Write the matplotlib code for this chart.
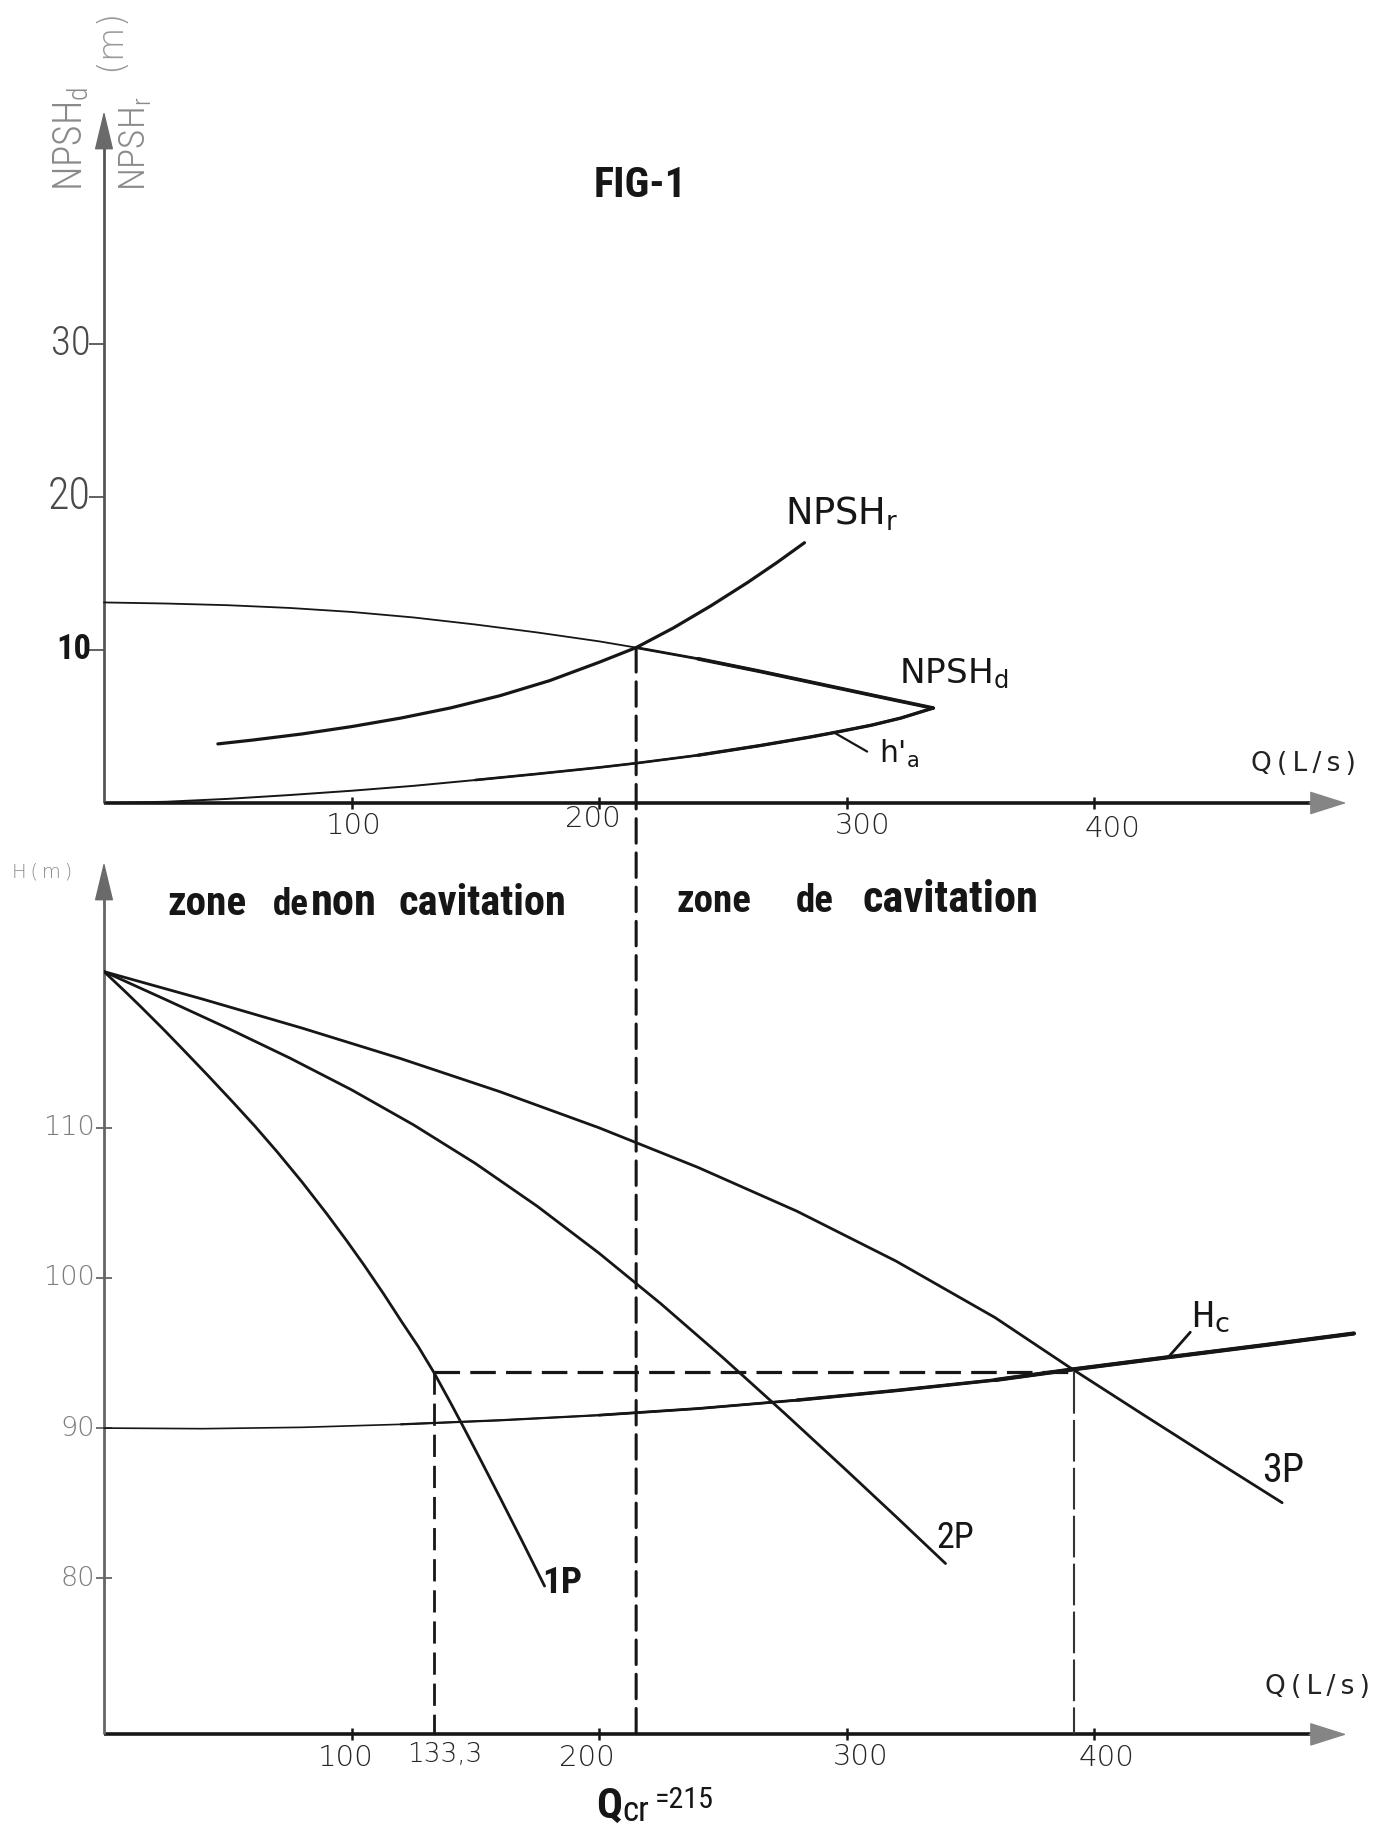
"""
FIG-1 : NPSH and H(Q) curves of the pumping station (1, 2, 3 pumps in parallel).
Values were read off the scanned drawing.
"""
import os

import matplotlib
matplotlib.use("Agg")  # no display needed
import matplotlib.pyplot as plt
from matplotlib import font_manager as fm
from matplotlib.font_manager import FontProperties
from matplotlib.patches import ConnectionPatch

plt.rcParams["font.family"] = ["DejaVu Sans"]
plt.rcParams["mathtext.default"] = "regular"

# --- upper diagram : NPSH (m) vs Q (L/s) ---
NPSHD_Q = [0, 25, 50, 75, 100, 125, 150, 175, 200, 215, 240, 265, 290, 315, 335]
NPSHD_H = [13.1, 13.03, 12.92, 12.74, 12.48, 12.12, 11.66, 11.14, 10.56, 10.15, 9.42, 8.6, 7.74, 6.88, 6.2]
NPSHR_Q = [46, 60, 80, 100, 120, 140, 160, 180, 200, 215, 230, 245, 260, 272, 283]
NPSHR_H = [3.86, 4.11, 4.51, 4.99, 5.55, 6.21, 7.01, 7.99, 9.19, 10.15, 11.43, 12.86, 14.4, 15.72, 17.0]
HA_Q = [0, 25, 50, 75, 100, 125, 150, 175, 200, 215, 240, 265, 285, 295, 310, 322, 335]
HA_H = [0.0, 0.08, 0.27, 0.52, 0.8, 1.12, 1.5, 1.9, 2.32, 2.6, 3.12, 3.75, 4.3, 4.6, 5.08, 5.55, 6.2]
NPSH_TICKS = [10, 20, 30]
NPSH_TICK_LABELS = ["10", "20", "30"]

# --- lower diagram : H (m) vs Q (L/s) ---
P1_Q = [0, 8, 15, 24, 32, 42, 52, 61, 70, 80, 90, 98, 105, 113, 120, 127, 133.3,
        140, 145, 152, 160, 169, 178]
P1_H = [120.4, 119.16, 118.04, 116.56, 115.2, 113.48, 111.72, 110.1, 108.39, 106.39, 104.27,
        102.49, 100.87, 98.93, 97.15, 95.42, 93.7, 91.69, 90.14, 87.93, 85.37, 82.45, 79.48]
P2_Q = [0, 25, 50, 75, 100, 125, 150, 175, 200, 225, 250, 275, 300, 320, 340]
P2_H = [120.4, 118.53, 116.63, 114.65, 112.53, 110.2, 107.63, 104.78, 101.65, 98.28, 94.7,
        90.98, 87.18, 84.1, 80.98]
P3_Q = [0, 40, 80, 120, 160, 200, 240, 280, 320, 360, 390, 420, 450, 476]
P3_H = [120.4, 118.56, 116.64, 114.6, 112.4, 110.0, 107.36, 104.44, 101.12, 97.36, 94.06,
        90.88, 87.73, 85.03]
HC_Q = [0, 40, 80, 120, 160, 200, 240, 280, 320, 360, 391, 430, 470, 505]
HC_H = [90.0, 89.96, 90.05, 90.25, 90.52, 90.86, 91.3, 91.86, 92.5, 93.2, 93.9, 94.72, 95.55, 96.3]
H_TICKS = [80, 90, 100, 110]
H_TICK_LABELS = ["80", "90", "100", "110"]

Q_TICKS = [100, 200, 300, 400]
Q_TICK_LABELS = ["100", "200", "300", "400"]
Q_1P = 133.3      # operating point, one pump
Q_3P = 392        # operating point, three pumps
H_OP = 93.75
Q_CR = 215        # critical flow (NPSHd = NPSHr)
NPSH_CR = 10.15

# --- page geometry (pixels of the scan) ---
W, H = 1399, 1826
INK = "#161616"


def fx(px):
    return px / W


def fy(py):
    return 1 - py / H


_files = {}
for f in fm.fontManager.ttflist:
    key = os.path.splitext(os.path.basename(f.fname))[0].lower()
    key = key.replace("-", "").replace("_", "").replace(" ", "")
    _files.setdefault(key, f.fname)


def font(names, size, weight="normal"):
    for n in names:
        if n in _files:
            return FontProperties(fname=_files[n], size=size)
    return FontProperties(family="DejaVu Sans", weight=weight, size=size)


BOLD_C = ["notosansextracondensedbold", "notosanscondensedbold",
          "liberationsansnarrowbold", "robotocondensedbold"]
REG_C = ["notosansextracondensed", "notosansextracondensedregular", "notosanscondensed",
         "liberationsansnarrowregular", "liberationsansnarrow", "robotocondensedregular"]
LIGHT_C = ["notosansextracondensedlight", "notosanscondensedlight", "robotocondensedlight"] + REG_C
THIN = ["dejavusansextralight", "latolight", "latoregular"]

fig = plt.figure(figsize=(W / 100, H / 100), dpi=100)
fig.patch.set_facecolor("white")
rend = fig.canvas.get_renderer()


def fit(t, px, along="w"):
    bb = t.get_window_extent(rend)
    cur = bb.width if along == "w" else bb.height
    if cur > 0:
        t.set_fontsize(t.get_fontsize() * px / cur)
    return t


def part(qs, hs, qmin):
    pts = [(q, h) for q, h in zip(qs, hs) if q >= qmin]
    return [p[0] for p in pts], [p[1] for p in pts]


def pen(ax, qs, hs, steps, **kw):
    # the ink gets heavier along the stroke: overlay from each start flow
    for qmin, lw in steps:
        ax.plot(*part(qs, hs, qmin), color=INK, lw=lw, solid_capstyle="round",
                solid_joinstyle="round", **kw)


# --- axes ---
QX0, QX1 = 104, 1346.5
ax_top = fig.add_axes([fx(QX0), fy(803), (QX1 - QX0) / W, (803 - 111) / H])
ax_bot = fig.add_axes([fx(QX0), fy(1734.4), (QX1 - QX0) / W, (1734.4 - 862) / H])
for ax in (ax_top, ax_bot):
    ax.set_xlim(0, 502)
    ax.patch.set_visible(False)
    for sp in ax.spines.values():
        sp.set_visible(False)
    ax.set_xticks(Q_TICKS)
    ax.tick_params(axis="x", direction="inout", length=9, width=1.8, color=INK, labelbottom=False)
ax_top.set_ylim(0, 45.2)
ax_bot.set_ylim(69.6, 127.7)
ax_top.set_yticks(NPSH_TICKS)
ax_top.tick_params(axis="y", direction="out", length=11, width=1.3, color="#555555", labelleft=False)
ax_bot.set_yticks(H_TICKS)
ax_bot.tick_params(axis="y", direction="inout", length=11, width=1.3, color="#666666", labelleft=False)


def draw_axes(ax, ycol):
    kw = dict(transform=ax.transAxes, clip_on=False, solid_capstyle="butt")
    ax.plot([0, 0.975], [0, 0], color=INK, lw=2.6, **kw)
    ax.plot([0, 0], [0, 0.96], color=ycol, lw=2.0, **kw)
    ax.annotate("", xy=(1, 0), xytext=(0.97, 0), xycoords="axes fraction",
                arrowprops=dict(arrowstyle="-|>,head_length=1.2,head_width=0.38", mutation_scale=20,
                                color="#858585", lw=1, shrinkA=0, shrinkB=0))
    ax.annotate("", xy=(0, 1), xytext=(0, 0.95), xycoords="axes fraction",
                arrowprops=dict(arrowstyle="-|>,head_length=1.25,head_width=0.3", mutation_scale=20,
                                color="#6a6a6a", lw=1, shrinkA=0, shrinkB=0))


draw_axes(ax_top, "#555555")
draw_axes(ax_bot, "#666666")

# --- upper curves ---
pen(ax_top, NPSHD_Q, NPSHD_H, [(0, 1.3), (Q_CR, 2.0), (240, 2.7)], clip_on=False)
pen(ax_top, NPSHR_Q, NPSHR_H, [(0, 2.3)])
pen(ax_top, HA_Q, HA_H, [(0, 1.4), (150, 1.9), (240, 2.4)])

i_ha = HA_Q.index(295)
ax_top.annotate("", xy=(HA_Q[i_ha], HA_H[i_ha]), xytext=(33, -19), textcoords="offset pixels",
                arrowprops=dict(arrowstyle="-", color=INK, lw=1.6, shrinkA=0, shrinkB=0))

t = ax_top.text(275, 18.2, "NPSH$_r$", fontsize=22, color=INK, va="baseline")
fit(t, 114)
t = ax_top.text(321, 7.85, "NPSH$_d$", fontsize=22, color=INK, va="baseline")
fit(t, 109)
t = ax_top.text(313, 2.6, "h$'_a$", fontsize=22, color=INK, va="baseline")
fit(t, 40)

# --- lower curves ---
pen(ax_bot, HC_Q, HC_H, [(0, 1.2), (120, 1.6), (200, 2.0), (280, 2.5), (360, 3.0)], clip_on=False)
for qs, hs in ((P1_Q, P1_H), (P2_Q, P2_H), (P3_Q, P3_H)):
    pen(ax_bot, qs, hs, [(0, 2.0)])

i_hc = HC_Q.index(430)
ax_bot.annotate("", xy=(HC_Q[i_hc], HC_H[i_hc]), xytext=(22, 25), textcoords="offset pixels",
                arrowprops=dict(arrowstyle="-", color=INK, lw=2.0, shrinkA=0, shrinkB=0))

# dashed construction lines
dash = (0, (8, 3.2))
ax_bot.plot([Q_1P, Q_3P], [H_OP, H_OP], color=INK, lw=2.3, ls=dash)
ax_bot.plot([Q_1P, Q_1P], [H_OP, ax_bot.get_ylim()[0]], color=INK, lw=2.0, ls=dash)
ax_bot.plot([Q_3P, Q_3P], [H_OP, ax_bot.get_ylim()[0]], color="#333333", lw=1.5, ls=(0, (20, 3)))
fig.add_artist(ConnectionPatch(xyA=(Q_CR, NPSH_CR), coordsA=ax_top.transData,
                               xyB=(Q_CR, ax_bot.get_ylim()[0]), coordsB=ax_bot.transData,
                               color=INK, lw=2.2, ls=dash))

# curve names
for txt, q, h, px, names in (("1P", 177, 79.0, 40, BOLD_C), ("2P", 336.4, 82.0, 38, REG_C),
                             ("3P", 468, 86.4, 42, REG_C)):
    t = ax_bot.text(q, h, txt, fontproperties=font(names, 30, "bold"), color=INK, va="baseline")
    fit(t, px)
t = ax_bot.text(439.2, 96.7, "H", fontproperties=font(REG_C, 30), color=INK, va="baseline")
fit(t, 23)
t = ax_bot.text(448.6, 96.4, "c", fontsize=16, color=INK, va="baseline")
fit(t, 15)

# --- tick labels ---
for val, lab in zip(NPSH_TICKS, NPSH_TICK_LABELS):
    bold = val == 10
    t = ax_top.annotate(lab, xy=(0, val), xycoords=("axes fraction", "data"), xytext=(-13, 0),
                        textcoords="offset pixels", ha="right", va="center",
                        color=INK if bold else "#4a4a4a",
                        fontproperties=font(BOLD_C if bold else LIGHT_C, 30, "bold" if bold else "normal"))
    fit(t, {10: 35, 20: 43, 30: 40}[val])

for val, lab in zip(H_TICKS, H_TICK_LABELS):
    ax_bot.annotate(lab, xy=(0, val), xycoords=("axes fraction", "data"), xytext=(-9, 0),
                    textcoords="offset pixels", ha="right", va="center", color="#7d7d7d",
                    fontproperties=font(THIN, 19.5))

for ax, dxs, dys in ((ax_top, [2, -6, 16, 18], [-9, -2, -9, -12]),
                     (ax_bot, [-6, -12, 14, 12], [-10, -10, -9, -10])):
    for q, lab, dx, dy in zip(Q_TICKS, Q_TICK_LABELS, dxs, dys):
        ax.annotate(lab, xy=(q, 0), xycoords=("data", "axes fraction"), xytext=(dx, dy),
                    textcoords="offset pixels", ha="center", va="top", color="#262626",
                    fontproperties=font(THIN, 21))
ax_bot.annotate("133,3", xy=(Q_1P, 0), xycoords=("data", "axes fraction"), xytext=(11, -8),
                textcoords="offset pixels", ha="center", va="top", color="#262626",
                fontproperties=font(THIN, 19))

# --- axis titles and free text ---
fig.text(fx(1251), fy(777), "Q\u2009(\u2009L\u2009/\u2009s\u2009)", fontsize=19, color="#222222", va="bottom")
fig.text(fx(1265), fy(1700), "Q\u2009(\u2009L\u2009/\u2009s\u2009)", fontsize=19, color="#222222", va="bottom")
fig.text(fx(12), fy(881), "H\u2009(\u2009m\u2009)", fontproperties=font(THIN, 14), color="#8a8a8a", va="bottom")

t = fig.text(fx(71), fy(191), "NPSH$_d$", rotation=90, ha="center", va="bottom",
             color="#8a8a8a", fontproperties=font(LIGHT_C, 20))
fit(t, 105, "h")
t = fig.text(fx(135), fy(191), "NPSH$_r$", rotation=90, ha="center", va="bottom",
             color="#8a8a8a", fontproperties=font(LIGHT_C, 20))
fit(t, 95, "h")
t = fig.text(fx(110), fy(71), "(m)", rotation=90, ha="center", va="bottom",
             color="#9a9a9a", fontproperties=font(THIN, 24))
fit(t, 63, "h")

t = fig.text(fx(594), fy(197), "FIG-1", fontproperties=font(BOLD_C, 40, "bold"), color=INK, va="baseline")
fit(t, 93)

for word, x0, px, y0 in (("zone", 167, 79, 915), ("de", 273, 36, 915), ("non", 311, 66, 915),
                         ("cavitation", 399, 168, 915), ("zone", 676, 75, 912),
                         ("de", 796, 38, 912), ("cavitation", 863, 176, 912)):
    t = fig.text(fx(x0), fy(y0), word, fontproperties=font(BOLD_C, 36, "bold"), color=INK, va="baseline")
    fit(t, px)

t = fig.text(fx(596), fy(1818), "Q", fontproperties=font(BOLD_C, 36, "bold"), color=INK, va="baseline")
fit(t, 26)
t = fig.text(fx(622), fy(1821), "cr", fontproperties=font(REG_C, 20), color=INK, va="baseline")
fit(t, 27)
t = fig.text(fx(655), fy(1808), "=215", fontproperties=font(REG_C, 20), color=INK, va="baseline")
fit(t, 59)

fig.savefig("out.png", dpi=100, facecolor="white")
